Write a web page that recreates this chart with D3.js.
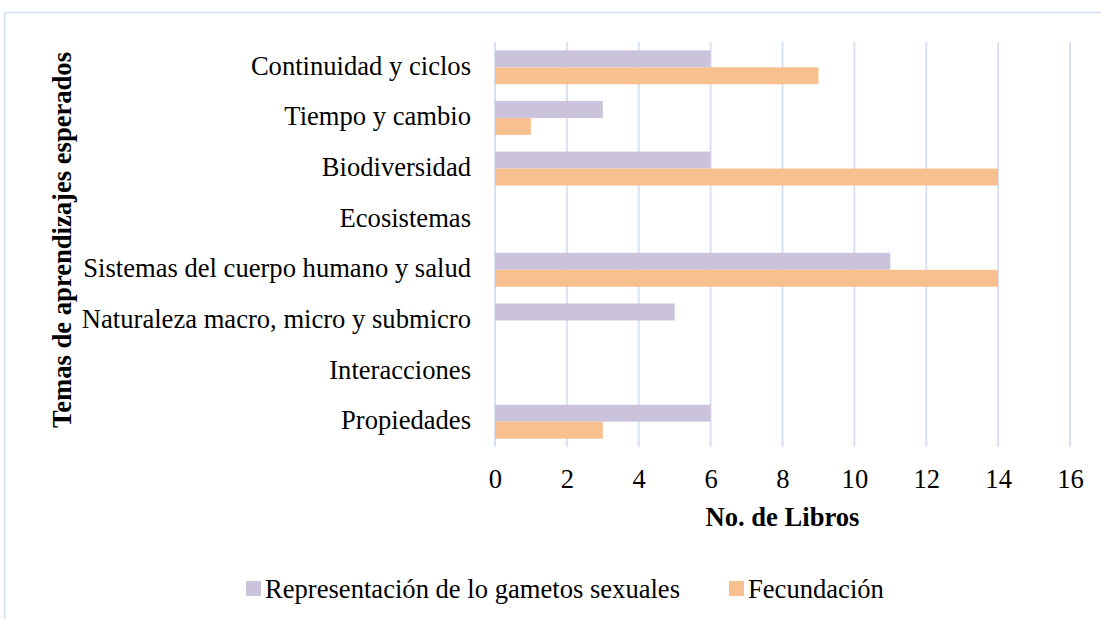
<!DOCTYPE html>
<html>
<head>
<meta charset="utf-8">
<title>Temas de aprendizajes esperados</title>
<script src="https://d3js.org/d3.v7.min.js"></script>
<style>
  body { margin: 0; background: #fff; }
  svg { display: block; }
</style>
</head>
<body>
<svg id="chart"></svg>
<script>
// data
var categories = ["Continuidad y ciclos", "Tiempo y cambio", "Biodiversidad", "Ecosistemas",
                  "Sistemas del cuerpo humano y salud", "Naturaleza macro, micro y submicro",
                  "Interacciones", "Propiedades"];
var gametos    = [6, 3, 6, 0, 11, 5, 0, 6];
var fecundacion = [9, 1, 14, 0, 14, 0, 0, 3];
var seriesNames = ["Representación de lo gametos sexuales", "Fecundación"];
var xTicks = [0, 2, 4, 6, 8, 10, 12, 14, 16];

var width = 1101, height = 619;
var font = "'Liberation Serif'";
var fs = 26.6;
var colors = ["#cbc3dc", "#f9c08f"];
var gridColor = "#d6e2f3";
var plot = {left: 495, right: 1070, top: 42, bottom: 447};

var svg = d3.select("#chart").attr("width", width).attr("height", height)
  .style("font-family", font);

// faint page frame
svg.append("line").attr("x1", 4.5).attr("x2", width).attr("y1", 12.5).attr("y2", 12.5)
  .attr("stroke", "#cfe0f2").attr("stroke-width", 1.5);
svg.append("line").attr("x1", 4.5).attr("x2", 4.5).attr("y1", 12.5).attr("y2", height)
  .attr("stroke", "#cfe0f2").attr("stroke-width", 1.5);

var x = d3.scaleLinear().domain([0, 16]).range([plot.left, plot.right]);
var y = d3.scaleBand().domain(categories).range([plot.top, plot.bottom]).paddingInner(0.33).paddingOuter(0.165);
var ySub = d3.scaleBand().domain([0, 1]).range([0, y.bandwidth()]);

// gridlines
svg.append("g").selectAll("line").data(xTicks).enter().append("line")
  .attr("x1", d => x(d)).attr("x2", d => x(d))
  .attr("y1", plot.top).attr("y2", plot.bottom)
  .attr("stroke", gridColor).attr("stroke-width", 2);

// bars
var seriesData = [gametos, fecundacion];
seriesData.forEach(function(vals, s) {
  svg.append("g").selectAll("rect").data(vals).enter().append("rect")
    .attr("x", x(0))
    .attr("y", (d, i) => y(categories[i]) + ySub(s))
    .attr("width", d => x(d) - x(0))
    .attr("height", ySub.bandwidth())
    .attr("fill", colors[s]);
});

// x axis
var xAxis = d3.axisBottom(x).tickValues(xTicks).tickSize(0).tickPadding(0);
var gx = svg.append("g").attr("transform", "translate(0," + (plot.bottom + 41) + ")").call(xAxis)
  .attr("font-family", null).attr("font-size", null);
gx.select(".domain").remove();
gx.selectAll("text").attr("dy", 0).style("font-family", font).style("font-size", fs + "px").attr("fill", "#000");

// y axis
var yAxis = d3.axisLeft(y).tickSize(0).tickPadding(24);
var gy = svg.append("g").attr("transform", "translate(" + plot.left + ",0)").call(yAxis)
  .attr("font-family", null).attr("font-size", null);
gy.select(".domain").remove();
gy.selectAll("text").attr("dy", "0.28em").style("font-family", font).style("font-size", fs + "px").attr("fill", "#000");

// axis titles
svg.append("text").attr("x", (plot.left + plot.right) / 2).attr("y", 526)
  .attr("text-anchor", "middle").style("font-family", font).style("font-size", fs + "px")
  .attr("font-weight", "bold").text("No. de Libros");
svg.append("text").attr("transform", "translate(71,240) rotate(-90)")
  .attr("text-anchor", "middle").style("font-family", font).style("font-size", fs + "px")
  .attr("font-weight", "bold").text("Temas de aprendizajes esperados");

// legend
var legendX = [246, 729];
var lg = svg.append("g").selectAll("g").data(seriesNames).enter().append("g")
  .attr("transform", (d, i) => "translate(" + legendX[i] + ",581)");
lg.append("rect").attr("width", 15).attr("height", 15).attr("fill", (d, i) => colors[i]);
lg.append("text").attr("x", 19).attr("y", 16.5).style("font-family", font).style("font-size", fs + "px").text(d => d);
</script>
</body>
</html>
